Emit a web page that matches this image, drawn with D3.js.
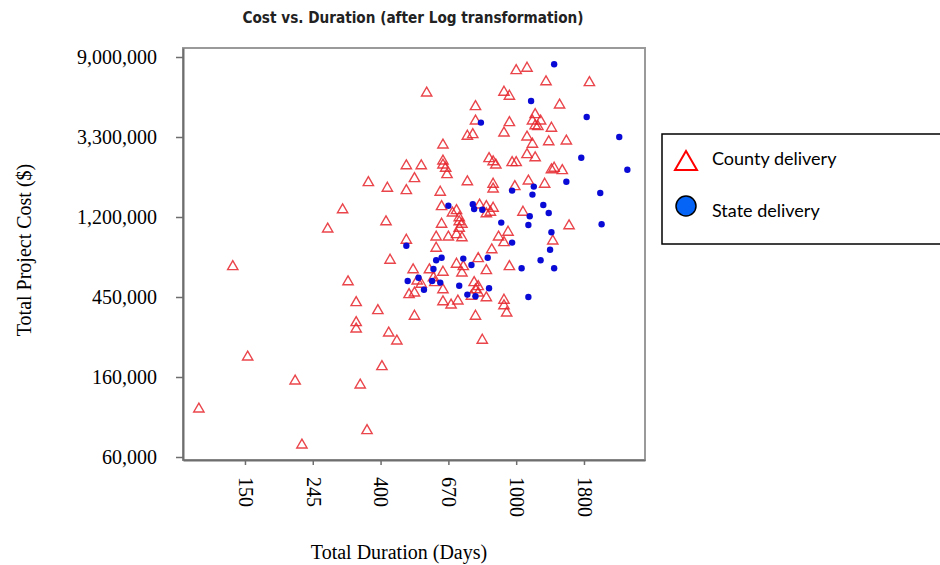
<!DOCTYPE html>
<meta charset="utf-8">

<!-- Load d3.js -->
<script src="https://d3js.org/d3.v7.min.js"></script>

<style>
  body { margin: 0; background: #fff; }
</style>

<!-- Create an element where the chart will take place -->
<svg id="my_dataviz" width="940" height="565"></svg>

<script>
    // Chart data (already log transformed: ln(days), ln(cost in $))
    var countyLogDays = [4.66,4.91,5.02,5.37,5.42,5.61,5.72,5.76,5.82,5.82,5.82,5.85,5.90,5.91,5.98,6.01,6.04,6.05,6.06,6.07,
        6.12,6.19,6.19,6.19,6.21,6.24,6.25,6.25,6.25,6.27,6.30,6.30,6.34,6.36,6.39,6.40,6.41,6.41,6.44,6.45,
        6.45,6.46,6.46,6.46,6.48,6.49,6.46,6.46,6.46,6.50,6.52,6.53,6.56,6.56,6.56,6.57,6.58,6.58,6.60,6.58,
        6.60,6.61,6.60,6.64,6.64,6.68,6.67,6.69,6.70,6.70,6.70,6.70,6.72,6.72,6.72,6.73,6.75,6.78,6.78,6.78,
        6.78,6.80,6.81,6.82,6.83,6.83,6.83,6.85,6.83,6.91,6.91,6.95,6.87,6.91,6.91,6.91,6.93,6.94,6.95,6.95,
        6.97,7.00,6.99,7.00,7.08,7.05,7.08,7.08,7.09,7.12,7.14,7.12,7.18,7.14,7.16,7.14,7.21,7.22,7.24,7.26,
        7.26,7.28,7.34,7.27,7.32,7.37,7.39,7.54];
    var countyLogCost = [11.60,13.38,12.25,11.95,11.15,13.85,14.09,13.19,12.93,12.68,12.60,11.90,11.33,14.43,12.83,12.13,13.94,14.36,12.55,13.46,
        12.45,14.33,14.64,13.71,13.03,13.34,12.76,14.48,13.05,13.20,13.16,14.64,15.55,13.34,13.24,13.18,13.75,13.61,14.31,14.13,
        13.91,14.90,14.70,14.65,14.61,14.53,13.31,13.09,12.94,13.75,12.90,14.05,14.08,13.78,13.41,12.95,13.99,13.94,13.91,13.86,
        13.74,13.38,13.30,15.01,14.44,15.03,13.01,13.18,12.76,15.38,15.20,13.09,13.48,13.13,13.05,14.15,12.46,14.13,14.04,13.33,
        12.99,14.73,14.06,13.59,14.11,14.41,14.35,14.65,14.69,15.56,15.05,15.51,13.75,13.68,12.96,12.89,12.80,13.81,15.18,13.38,
        14.68,14.68,14.38,15.83,15.86,14.06,15.00,14.78,14.45,14.91,15.28,15.20,15.20,15.14,15.13,14.74,14.41,15.69,14.94,15.11,
        14.59,14.61,14.58,13.70,15.40,14.95,13.89,15.68];

    var stateLogDays = [7.28,7.11,6.74,7.52,7.76,7.48,7.82,7.37,7.13,6.97,7.12,7.62,7.20,6.50,6.68,6.69,6.75,7.24,7.10,6.89,
        7.09,7.63,7.26,6.97,7.25,6.19,6.41,6.45,6.61,6.79,7.18,6.67,7.04,7.28,6.39,6.20,6.28,6.38,6.44,6.32,
        6.58,6.80,6.64,6.70,7.09];
    var stateLogCost = [15.91,15.45,15.18,15.25,15.00,14.74,14.59,14.44,14.38,14.33,14.28,14.30,14.15,14.14,14.16,14.10,14.09,14.05,14.01,13.93,
        13.90,13.91,13.81,13.68,13.59,13.64,13.46,13.49,13.48,13.49,13.46,13.40,13.36,13.36,13.35,13.20,13.24,13.20,13.18,13.09,
        13.14,13.11,13.03,13.01,13.00];

    // Axis ticks (log values) and the labels shown for them
    var xTickValues = [5, 5.5, 6, 6.5, 7, 7.5];
    var xTickLabels = ["150", "245", "400", "670", "1000", "1800"];
    var yTickValues = [11, 12, 13, 14, 15, 16];
    var yTickLabels = ["60,000", "160,000", "450,000", "1,200,000", "3,300,000", "9,000,000"];

    var seriesNames = ["County delivery", "State delivery"];

    // The svg
    var svg = d3.select("svg");
    var plot = { left: 183, right: 645, top: 48, bottom: 460 };

    // Scales (linear on the log values)
    var x = d3.scaleLinear()
        .domain([4.543, 7.95])
        .range([plot.left, plot.right]);
    var y = d3.scaleLinear()
        .domain([10.9625, 16.1125])
        .range([plot.bottom, plot.top]);

    // Title
    svg.append("text")
        .attr("x", 413)
        .attr("y", 23)
        .attr("text-anchor", "middle")
        .attr("textLength", 341)
        .attr("lengthAdjust", "spacingAndGlyphs")
        .style("font-family", "'Liberation Sans Narrow', 'DejaVu Sans Condensed', 'Arial Narrow', sans-serif")
        .style("font-stretch", "condensed")
        .style("font-weight", "bold")
        .style("font-size", "16px")
        .style("fill", "#222")
        .text("Cost vs. Duration (after Log transformation)");

    // Plot frame
    svg.append("rect")
        .attr("x", plot.left)
        .attr("y", plot.top)
        .attr("width", plot.right - plot.left)
        .attr("height", plot.bottom - plot.top)
        .style("fill", "#fff")
        .style("stroke", "#9a9a9a")
        .style("stroke-width", 2);

    // Y axis
    var yAxis = svg.append("g")
        .attr("transform", "translate(" + plot.left + ",0)")
        .call(d3.axisLeft(y)
            .tickValues(yTickValues)
            .tickFormat(function(d, i) { return yTickLabels[i]; })
            .tickSize(7)
            .tickPadding(19)
            .tickSizeOuter(0));

    // X axis
    var xAxis = svg.append("g")
        .attr("transform", "translate(0," + plot.bottom + ")")
        .call(d3.axisBottom(x)
            .tickValues(xTickValues)
            .tickFormat(function(d, i) { return xTickLabels[i]; })
            .tickSize(5)
            .tickSizeOuter(0));

    [yAxis, xAxis].forEach(function(g) {
        g.select(".domain").style("stroke", "#6e6e6e").style("stroke-width", 2);
        g.selectAll(".tick line").style("stroke", "#6e6e6e").style("stroke-width", 1.5);
        g.selectAll(".tick text")
            .style("font-family", "'Liberation Serif', 'Times New Roman', serif")
            .style("font-size", "20px")
            .style("fill", "#000");
    });

    // rotated duration labels
    xAxis.selectAll(".tick text")
        .attr("transform", "rotate(90)")
        .attr("x", 17)
        .attr("y", 0)
        .attr("dy", "0.33em")
        .attr("text-anchor", "start");

    // Axis titles
    svg.append("text")
        .attr("x", 399)
        .attr("y", 559)
        .attr("text-anchor", "middle")
        .style("font-family", "'Liberation Serif', 'Times New Roman', serif")
        .style("font-size", "20px")
        .text("Total Duration (Days)");

    svg.append("text")
        .attr("transform", "translate(31,250) rotate(-90)")
        .attr("text-anchor", "middle")
        .style("font-family", "'Liberation Serif', 'Times New Roman', serif")
        .style("font-size", "20px")
        .text("Total Project Cost ($)");

    // County delivery triangles
    var triangle = d3.symbol().type(d3.symbolTriangle).size(46);
    svg.append("g")
        .selectAll("path")
        .data(d3.range(countyLogDays.length))
        .enter().append("path")
        .attr("d", triangle)
        .attr("transform", function(i) {
            return "translate(" + x(countyLogDays[i]) + "," + y(countyLogCost[i]) + ")";
        })
        .style("fill", "none")
        .style("stroke", "#e5252b")
        .style("stroke-width", 1.4)
        .style("stroke-opacity", 0.85);

    // State delivery dots
    svg.append("g")
        .selectAll("circle")
        .data(d3.range(stateLogDays.length))
        .enter().append("circle")
        .attr("cx", function(i) { return x(stateLogDays[i]); })
        .attr("cy", function(i) { return y(stateLogCost[i]); })
        .attr("r", 3.2)
        .style("fill", "#0a0ad6");

    // Legend
    var legend = svg.append("g");
    legend.append("rect")
        .attr("x", 662)
        .attr("y", 134)
        .attr("width", 290)
        .attr("height", 110)
        .style("fill", "#fff")
        .style("stroke", "#000")
        .style("stroke-width", 1.5);

    legend.append("path")
        .attr("d", "M686,151 L697,170 L675,170 Z")
        .style("fill", "none")
        .style("stroke", "#ff0000")
        .style("stroke-width", 2);

    legend.append("circle")
        .attr("cx", 686)
        .attr("cy", 206)
        .attr("r", 10)
        .style("fill", "#0563f5")
        .style("stroke", "#000")
        .style("stroke-width", 1.5);

    legend.selectAll("text.lbl")
        .data(seriesNames)
        .enter().append("text")
        .attr("class", "lbl")
        .attr("x", 712)
        .attr("y", function(d, i) { return 165 + i * 52; })
        .style("font-family", "Lato, 'Open Sans', sans-serif")
        .style("font-size", "18px")
        .style("fill", "#000")
        .text(function(d) { return d; });
</script>
